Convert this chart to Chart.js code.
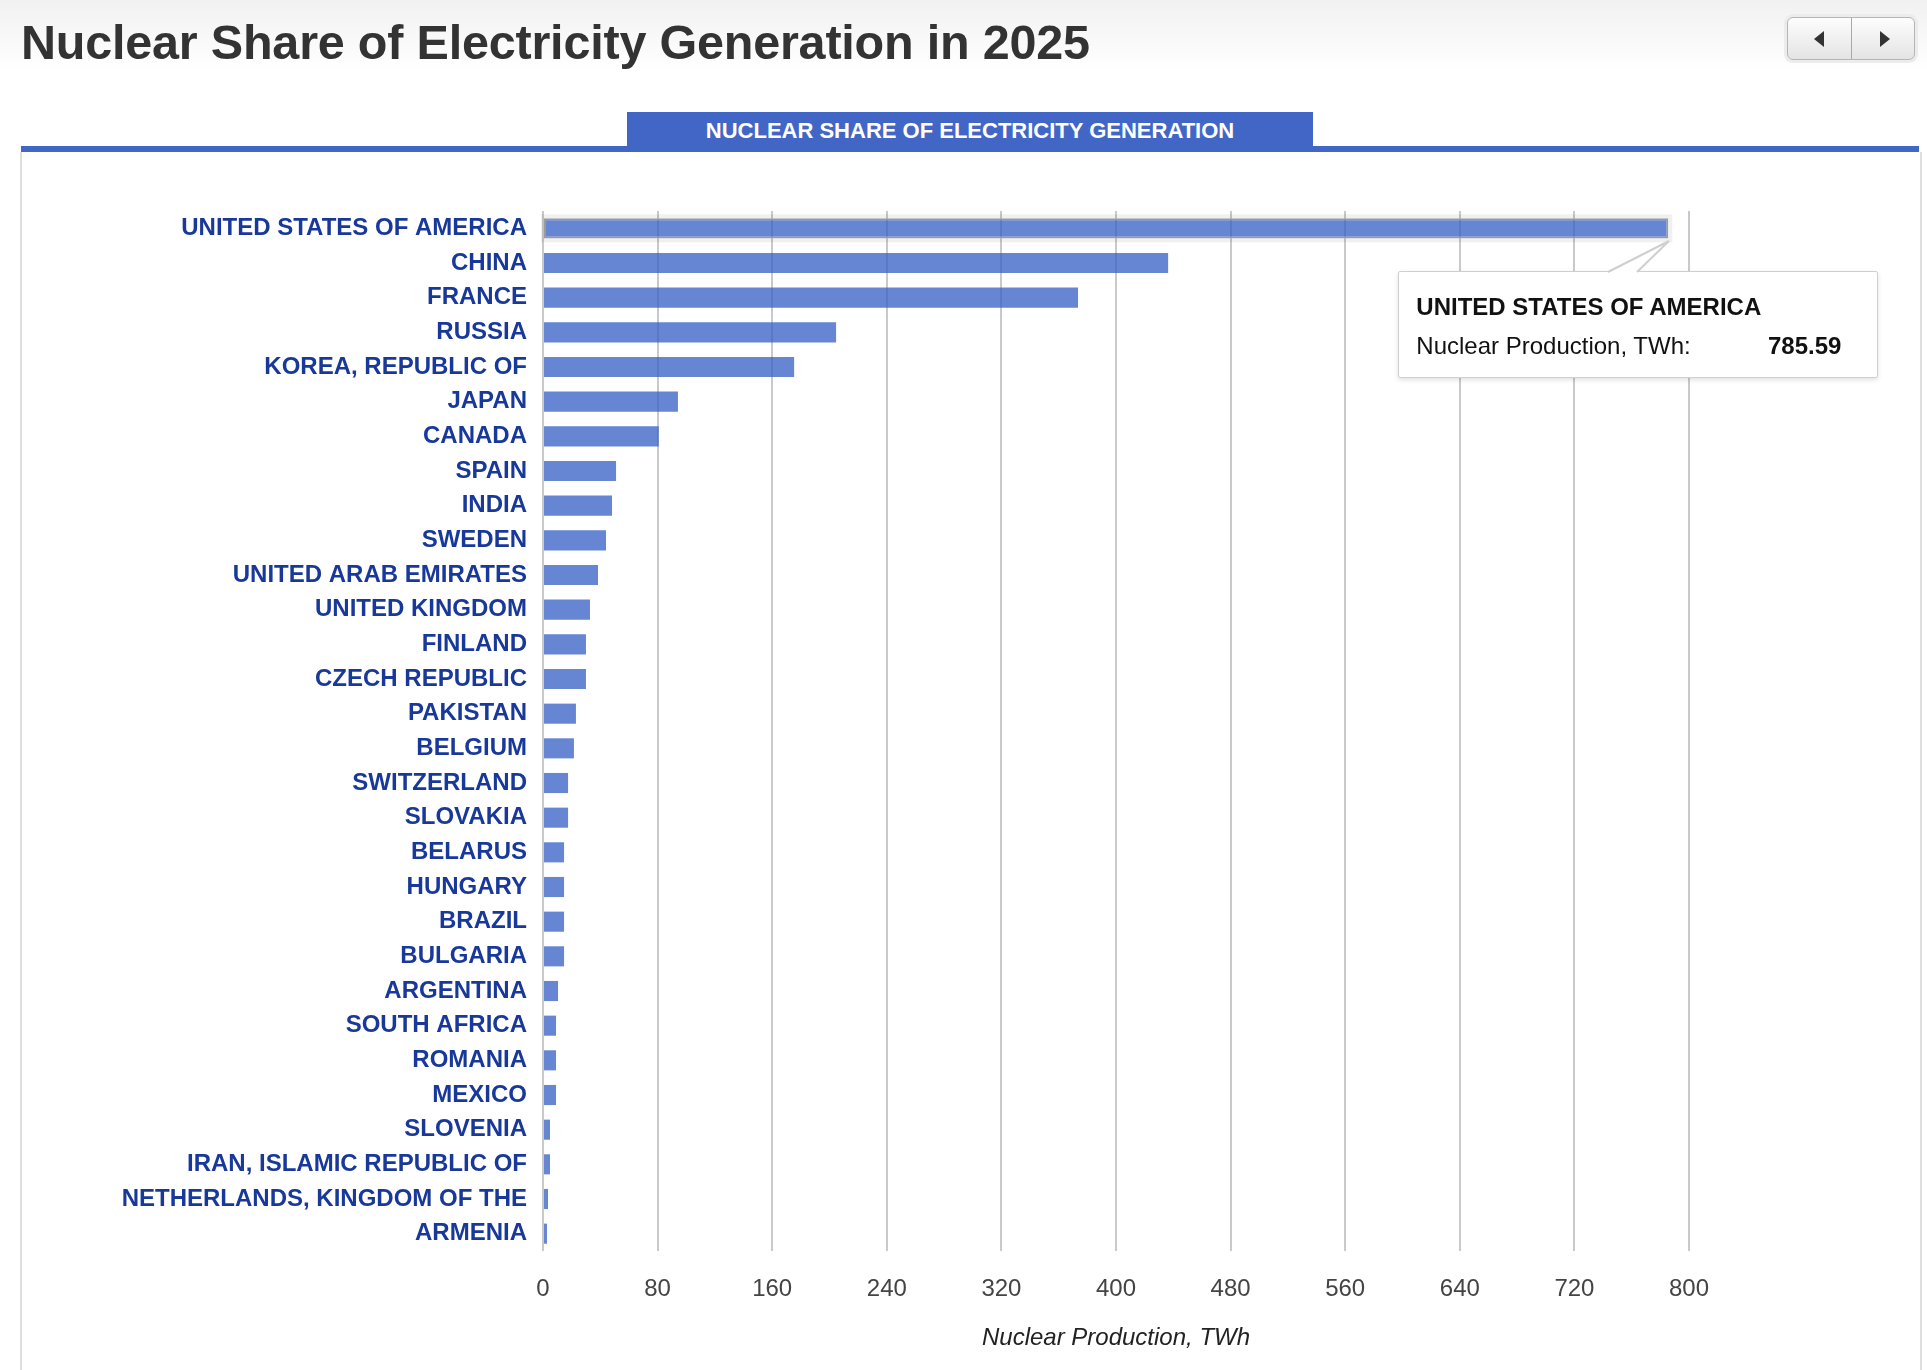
<!DOCTYPE html>
<html>
<head>
<meta charset="utf-8">
<script src="https://cdn.jsdelivr.net/npm/chart.js@4.4.1/dist/chart.umd.min.js"></script>
<style>
    html, body {
        margin: 0;
        padding: 0;
        width: 1927px;
        height: 1370px;
        overflow: hidden;
        font-family: "Liberation Sans", Arial, Helvetica, sans-serif;
        background: linear-gradient(to bottom, #f1f1f1 0px, #ffffff 70px);
    }
    .page-title {
        position: absolute;
        left: 21px;
        top: 14px;
        margin: 0;
        font-size: 48.5px;
        font-weight: bold;
        color: #333;
        letter-spacing: -0.2px;
    }
    .nav {
        position: absolute;
        left: 1787px;
        top: 17px;
        width: 126px;
        height: 41px;
        border: 1px solid #b5b5b5;
        border-radius: 6px;
        background: linear-gradient(to bottom, #fdfdfd, #e4e4e4);
        box-shadow: 0 0 0 3px #ececec;
        display: flex;
    }
    .nav div {
        flex: 1;
        position: relative;
    }
    .nav div:first-child {
        border-right: 1px solid #a8a8a8;
    }
    .arrow-left, .arrow-right {
        position: absolute;
        top: 13px;
        width: 0;
        height: 0;
        border-top: 8px solid transparent;
        border-bottom: 8px solid transparent;
    }
    .arrow-left {
        left: 26px;
        border-right: 10px solid #333;
    }
    .arrow-right {
        left: 28px;
        border-left: 10px solid #333;
    }
    .tab {
        position: absolute;
        left: 627px;
        top: 112px;
        width: 686px;
        height: 35px;
        background: #4266c6;
        color: #fff;
        font-size: 22px;
        font-weight: bold;
        text-align: center;
        line-height: 37px;
    }
    .tab-line {
        position: absolute;
        left: 21px;
        top: 146px;
        width: 1898px;
        height: 6px;
        background: #4266c6;
    }
    .panel {
        position: absolute;
        left: 20px;
        top: 152px;
        width: 1898px;
        height: 1218px;
        border-left: 2px solid #dedede;
        border-right: 2px solid #dedede;
        background: #fff;
    }
    #chartBox {
        position: absolute;
        left: 21px;
        top: 152px;
        width: 1898px;
        height: 1218px;
    }
    #tip {
        position: absolute;
        display: none;
        background: #fff;
        border: 1px solid #cfcfcf;
        border-radius: 2px;
        box-shadow: 0 2px 5px rgba(0, 0, 0, 0.12);
        font-size: 24px;
        color: #111;
        box-sizing: border-box;
    }
    #tip svg {
        position: absolute;
        left: 0;
        top: -40px;
        overflow: visible;
    }
    #tipTitle {
        position: absolute;
        left: 17px;
        top: 21px;
        font-weight: bold;
        white-space: nowrap;
    }
    #tipLabel {
        position: absolute;
        left: 17px;
        top: 60px;
        white-space: nowrap;
    }
    #tipValue {
        position: absolute;
        right: 36px;
        top: 60px;
        font-weight: bold;
    }
</style>
</head>
<body>
<h1 class="page-title">Nuclear Share of Electricity Generation in 2025</h1>
<div class="nav"><div><span class="arrow-left"></span></div><div><span class="arrow-right"></span></div></div>
<div class="panel"></div>
<div class="tab">NUCLEAR SHARE OF ELECTRICITY GENERATION</div>
<div class="tab-line"></div>
<div id="chartBox">
    <canvas id="nuclearChart" width="1898" height="1218"></canvas>
    <div id="tip">
        <svg width="1" height="1"><polygon id="tipCaret" points="0,0 0,0 0,0" fill="#fff" stroke="none"></polygon><polyline id="tipCaretLine" points="0,0 0,0 0,0" fill="none" stroke="#cfcfcf" stroke-width="2"></polyline></svg>
        <div id="tipTitle"></div>
        <div id="tipLabel"></div>
        <div id="tipValue"></div>
    </div>
</div>

<script>
// Countries (sorted by production)
const countries = [
    "UNITED STATES OF AMERICA",
    "CHINA",
    "FRANCE",
    "RUSSIA",
    "KOREA, REPUBLIC OF",
    "JAPAN",
    "CANADA",
    "SPAIN",
    "INDIA",
    "SWEDEN",
    "UNITED ARAB EMIRATES",
    "UNITED KINGDOM",
    "FINLAND",
    "CZECH REPUBLIC",
    "PAKISTAN",
    "BELGIUM",
    "SWITZERLAND",
    "SLOVAKIA",
    "BELARUS",
    "HUNGARY",
    "BRAZIL",
    "BULGARIA",
    "ARGENTINA",
    "SOUTH AFRICA",
    "ROMANIA",
    "MEXICO",
    "SLOVENIA",
    "IRAN, ISLAMIC REPUBLIC OF",
    "NETHERLANDS, KINGDOM OF THE",
    "ARMENIA",
];

// Nuclear production, TWh
const production = [
    785.59, 436.4, 373.5, 204.6, 175.3, 94.2, 80.8, 51.0, 48.2, 44.0,
    38.4, 32.8, 30.0, 30.0, 23.0, 21.6, 17.5, 17.5, 14.7, 14.7,
    14.7, 14.7, 10.5, 9.1, 9.1, 9.1, 4.9, 4.9, 3.5, 2.8,
];

// X axis ticks
const xTicks = [0, 80, 160, 240, 320, 400, 480, 560, 640, 720, 800];

const seriesLabel = "Nuclear Production, TWh";
const fontFamily = '"Liberation Sans", Arial, Helvetica, sans-serif';
const barColor = "rgba(51, 93, 197, 0.75)";

// Soft glow around the highlighted bar
const glowPlugin = {
    id: "glow",
    beforeDatasetsDraw(chart) {
        const active = chart.getActiveElements();
        if (!active.length) return;
        const el = chart.getDatasetMeta(0).data[active[0].index];
        const ctx = chart.ctx;
        const top = el.y - el.height / 2;
        ctx.save();
        ctx.strokeStyle = "rgba(0, 0, 0, 0.06)";
        ctx.lineWidth = 4;
        ctx.strokeRect(el.base - 1, top - 2, el.x - el.base + 3, el.height + 4);
        ctx.restore();
    },
};

// HTML tooltip with slanted caret
function externalTooltip(context) {
    const tooltip = context.tooltip;
    const tip = document.getElementById("tip");
    if (tooltip.opacity === 0 || !tooltip.dataPoints || !tooltip.dataPoints.length) {
        tip.style.display = "none";
        return;
    }
    const point = tooltip.dataPoints[0];
    const el = point.element;

    document.getElementById("tipTitle").textContent = point.label;
    document.getElementById("tipLabel").textContent = point.dataset.label + ":";
    document.getElementById("tipValue").textContent = point.raw.toFixed(2);

    const tipX = el.x;
    const tipY = el.y + el.height / 2 + 2;
    const boxW = 480;
    const boxH = 107;
    const boxLeft = tipX - 270;
    const boxTop = tipY + 31;

    tip.style.display = "block";
    tip.style.left = boxLeft + "px";
    tip.style.top = boxTop + "px";
    tip.style.width = boxW + "px";
    tip.style.height = boxH + "px";

    // caret points, relative to svg (svg top is 40px above box)
    const ax = 209, bx = 238, cx = tipX - boxLeft, cy = 40 - (boxTop - tipY);
    document.getElementById("tipCaret").setAttribute("points", `${ax},41 ${cx},${cy} ${bx},41`);
    document.getElementById("tipCaretLine").setAttribute("points", `${ax},40 ${cx},${cy} ${bx},40`);
}

const ctx = document.getElementById("nuclearChart").getContext("2d");

const chart = new Chart(ctx, {
    type: "bar",
    data: {
        labels: countries,
        datasets: [
            {
                label: seriesLabel,
                data: production,
                backgroundColor: barColor,
                hoverBackgroundColor: barColor,
                borderWidth: 0,
                hoverBorderWidth: 2,
                hoverBorderColor: "#9a9a9a",
                borderSkipped: false,
                categoryPercentage: 1,
                barPercentage: 0.58,
            },
        ],
    },
    options: {
        indexAxis: "y",
        responsive: false,
        animation: false,
        events: [],
        layout: {
            padding: { left: 0, right: 230, top: 59, bottom: 0 },
        },
        scales: {
            x: {
                min: 0,
                max: 800,
                afterBuildTicks: (scale) => {
                    scale.ticks = xTicks.map((v) => ({ value: v }));
                },
                afterFit: (scale) => {
                    scale.height = 119;
                },
                grid: {
                    color: "#c9c9c9",
                    lineWidth: 2,
                    drawTicks: false,
                },
                border: { display: false },
                ticks: {
                    color: "#444",
                    padding: 24,
                    font: { family: fontFamily, size: 24 },
                },
                title: {
                    display: true,
                    text: seriesLabel,
                    color: "#222",
                    padding: { top: 0, bottom: 17 },
                    font: { family: fontFamily, size: 24, style: "italic" },
                },
            },
            y: {
                afterFit: (scale) => {
                    scale.width = 522;
                },
                grid: { display: false, drawTicks: false },
                border: { display: false },
                ticks: {
                    color: "#18389a",
                    padding: 16,
                    autoSkip: false,
                    font: { family: fontFamily, size: 24, weight: "bold" },
                },
            },
        },
        plugins: {
            legend: { display: false },
            tooltip: {
                enabled: false,
                external: externalTooltip,
            },
        },
    },
    plugins: [glowPlugin],
});

// Highlight the first bar like the reference
const activeBar = [{ datasetIndex: 0, index: 0 }];
chart.setActiveElements(activeBar);
chart.tooltip.setActiveElements(activeBar, { x: 0, y: 0 });
chart.update();
</script>
</body>
</html>
